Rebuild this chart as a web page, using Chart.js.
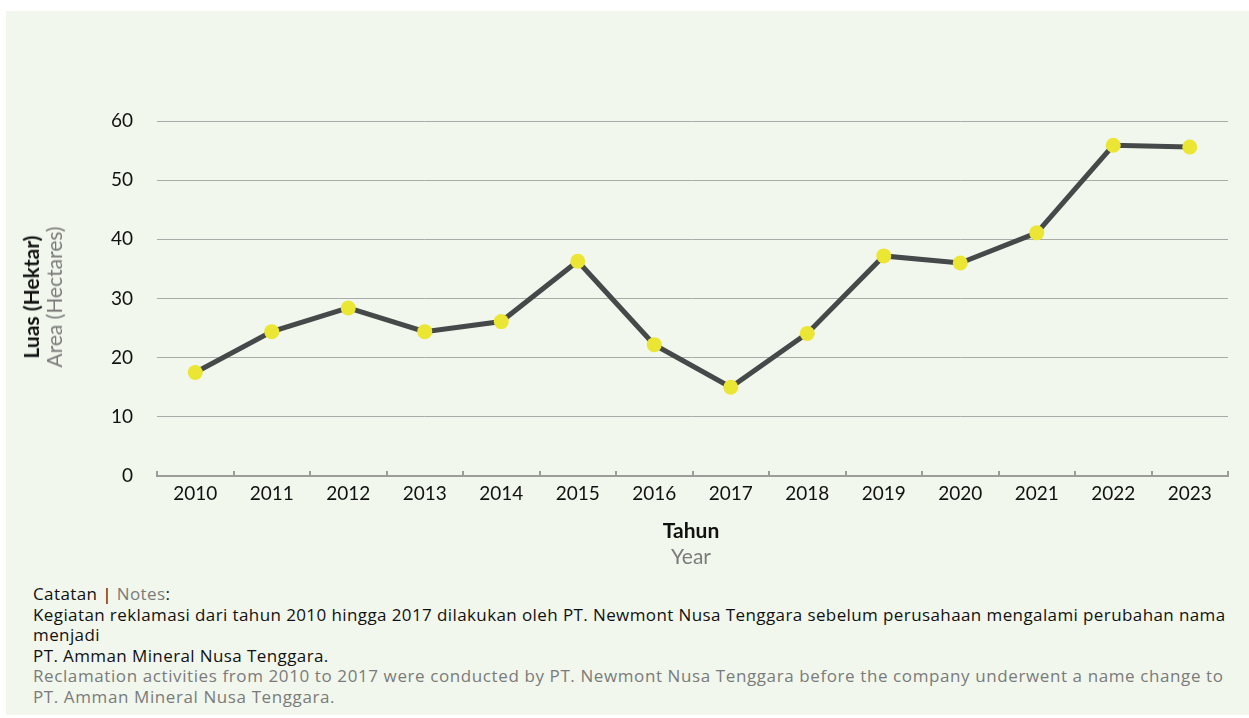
<!DOCTYPE html>
<html>
<head>
<meta charset="utf-8">
<script src="https://cdn.jsdelivr.net/npm/chart.js@4.4.1/dist/chart.umd.min.js"></script>
<style>
  html, body { margin: 0; padding: 0; background: #ffffff; }
  body { width: 1249px; height: 718px; position: relative; overflow: hidden; }
  .panel { position: absolute; left: 6px; top: 11px; width: 1243px; height: 704px; background: #f1f7ec; }
  #wrap { position: absolute; left: 0; top: 0; width: 1249px; height: 520px; }
  .ytitle { position: absolute; left: 42px; top: 297px; transform: translate(-50%, -50%) rotate(-90deg);
            font-family: Lato, sans-serif; font-size: 21px; line-height: 23px; text-align: center; white-space: nowrap; }
  .xtitle { position: absolute; left: 691px; top: 517px; transform: translateX(-50%);
            font-family: Lato, sans-serif; font-size: 21px; line-height: 26px; text-align: center; white-space: nowrap; }
  .dark { color: #111; font-weight: bold; }
  .grey { color: #7b7b7b; }
  .notes { position: absolute; left: 33px; top: 584px; font-family: "Open Sans", sans-serif; font-size: 17px;
           letter-spacing: 0.4px; line-height: 20.5px; color: #111; white-space: nowrap; }
  .notes .en { letter-spacing: 0.6px; }
</style>
</head>
<body>
<div class="panel"></div>
<div id="wrap"><canvas id="chart"></canvas></div>
<div class="ytitle"><div class="dark">Luas (Hektar)</div><div class="grey">Area (Hectares)</div></div>
<div class="xtitle"><div class="dark">Tahun</div><div class="grey">Year</div></div>
<div class="notes">
  <div>Catatan | <span class="grey">Notes</span>:</div>
  <div>Kegiatan reklamasi dari tahun 2010 hingga 2017 dilakukan oleh PT. Newmont Nusa Tenggara sebelum perusahaan mengalami perubahan nama</div>
  <div>menjadi</div>
  <div>PT. Amman Mineral Nusa Tenggara.</div>
  <div class="grey en">Reclamation activities from 2010 to 2017 were conducted by PT. Newmont Nusa Tenggara before the company underwent a name change to</div>
  <div class="grey en">PT. Amman Mineral Nusa Tenggara.</div>
</div>
<script>
// data
const years = ['2010', '2011', '2012', '2013', '2014', '2015', '2016', '2017', '2018', '2019', '2020', '2021', '2022', '2023'];
const luas = [17.5, 24.4, 28.4, 24.4, 26.1, 36.3, 22.2, 15.0, 24.1, 37.2, 36.0, 41.1, 55.9, 55.6];
const yTicks = [0, 10, 20, 30, 40, 50, 60];

const axisGrey = '#9c9c9c';

// small tick marks pointing up from the x axis, at category boundaries
const upTicks = {
  id: 'upTicks',
  afterDraw(chart) {
    const xs = chart.scales.x;
    const ctx = chart.ctx;
    const bottom = chart.chartArea.bottom;
    ctx.save();
    ctx.strokeStyle = axisGrey;
    ctx.lineWidth = 2;
    for (let i = 0; i <= years.length; i++) {
      const x = Math.round(xs.getPixelForValue(i - 0.5));
      ctx.beginPath();
      ctx.moveTo(x, bottom - 5);
      ctx.lineTo(x, bottom + 1);
      ctx.stroke();
    }
    ctx.restore();
  }
};

Chart.defaults.font.family = 'Lato, sans-serif';

new Chart(document.getElementById('chart'), {
  type: 'line',
  data: {
    labels: years,
    datasets: [{
      data: luas,
      borderColor: '#464949',
      borderWidth: 5,
      tension: 0,
      pointRadius: 7.5,
      pointHoverRadius: 7.5,
      pointBackgroundColor: '#ebe633',
      pointBorderWidth: 0
    }]
  },
  options: {
    responsive: true,
    maintainAspectRatio: false,
    animation: false,
    layout: { padding: { left: 0, top: 121, right: 21, bottom: 0 } },
    plugins: { legend: { display: false }, tooltip: { enabled: false } },
    scales: {
      x: {
        offset: true,
        grid: { display: false, drawTicks: false },
        border: { display: true, color: axisGrey, width: 2 },
        ticks: { color: '#111', font: { size: 19 }, padding: 6 },
        afterFit(scale) { scale.height = 44; }
      },
      y: {
        min: 0,
        max: 60,
        afterBuildTicks(scale) { scale.ticks = yTicks.map(v => ({ value: v })); },
        grid: { color: '#a9aba8', lineWidth: 1, drawTicks: false },
        border: { display: false },
        ticks: { color: '#111', font: { size: 19 }, padding: 24 },
        afterFit(scale) { scale.width = 157; }
      }
    }
  },
  plugins: [upTicks]
});
</script>
</body>
</html>
